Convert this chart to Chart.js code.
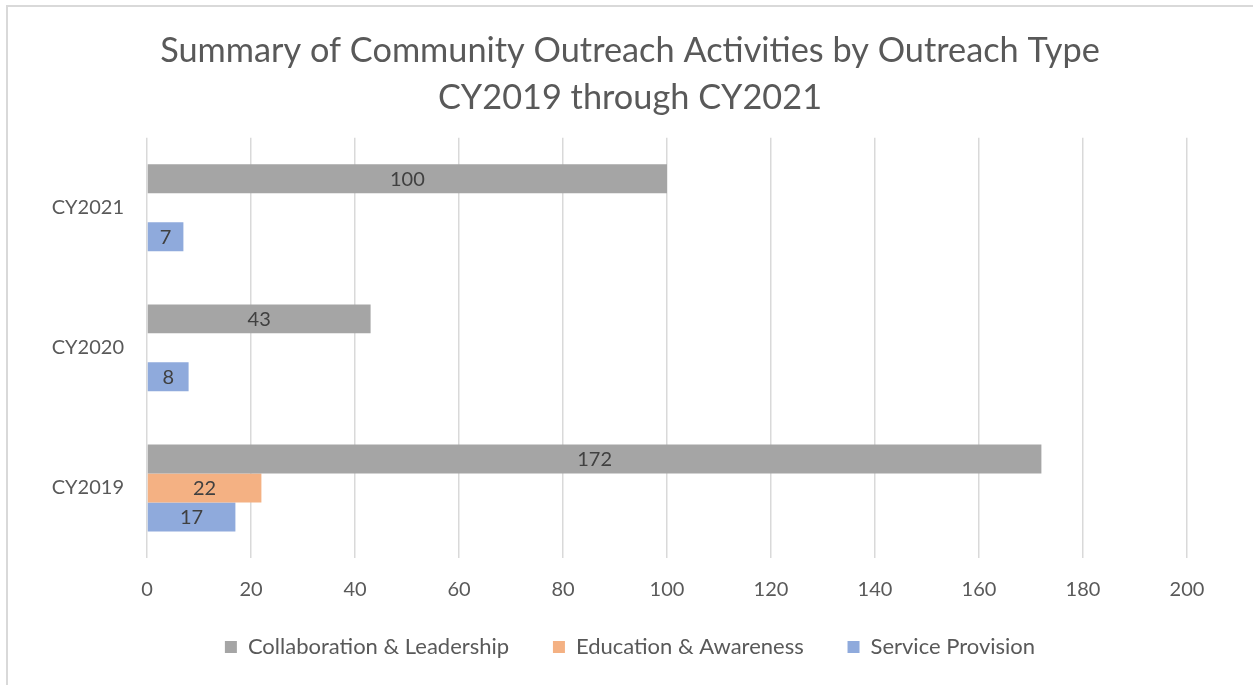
<!DOCTYPE html>
<html>
<head>
<meta charset="utf-8">
<script src="https://cdn.jsdelivr.net/npm/chart.js@4.4.1/dist/chart.umd.min.js"></script>
<style>
  html, body { margin: 0; padding: 0; background: #fff; overflow: hidden; }
  #frame { position: absolute; left: 6px; top: 5px; width: 1400px; height: 800px; border: 2px solid #d9d9d9; }
  #chart { position: absolute; left: 0; top: 0; }
</style>
</head>
<body>
<div id="frame"></div>
<canvas id="chart" width="1253" height="685"></canvas>
<script>
// data
const years = ['CY2021', 'CY2020', 'CY2019'];
const collaboration = [100, 43, 172];
const education = [null, null, 22];
const service = [7, 8, 17];
const xTicks = [0, 20, 40, 60, 80, 100, 120, 140, 160, 180, 200];

const textColor = '#595959';
const fontName = 'Lato';

// draws the value in the middle of each bar (like Excel data labels)
const barLabels = {
    id: 'barLabels',
    afterDatasetsDraw(chart) {
        const ctx = chart.ctx;
        ctx.save();
        ctx.font = '20px ' + fontName;
        ctx.fillStyle = '#404040';
        ctx.textAlign = 'center';
        ctx.textBaseline = 'middle';
        chart.data.datasets.forEach((ds, i) => {
            chart.getDatasetMeta(i).data.forEach((bar, j) => {
                if (ds.data[j] == null) return;
                ctx.fillText(ds.data[j], (bar.x + bar.base) / 2, bar.y + 1);
            });
        });
        ctx.restore();
    }
};

new Chart(document.getElementById('chart').getContext('2d'), {
    type: 'bar',
    data: {
        labels: years,
        datasets: [
            { label: 'Collaboration & Leadership', data: collaboration, backgroundColor: '#a5a5a5' },
            { label: 'Education & Awareness', data: education, backgroundColor: '#f4b183' },
            { label: 'Service Provision', data: service, backgroundColor: '#8faadc' }
        ]
    },
    options: {
        indexAxis: 'y',
        responsive: false,
        animation: false,
        categoryPercentage: 0.62,
        barPercentage: 1,
        layout: { padding: { left: 33, right: 26, top: 27, bottom: 17 } },
        scales: {
            x: {
                min: 0,
                max: 200,
                afterBuildTicks: (s) => { s.ticks = xTicks.map(v => ({ value: v })); },
                afterFit: (s) => { s.height = 68; },
                grid: { color: '#d9d9d9', lineWidth: 1.5, drawTicks: false },
                border: { display: false },
                ticks: { padding: 20, color: textColor, font: { family: fontName, size: 20 } }
            },
            y: {
                afterFit: (s) => { s.width = 114; },
                grid: { display: false, drawTicks: false },
                border: { display: false },
                ticks: { padding: 23, color: textColor, font: { family: fontName, size: 20 } }
            },
            // empty axis on the right, only keeps space so the plot ends at 200 where Excel put it
            yRight: {
                type: 'category',
                position: 'right',
                afterFit: (s) => { s.width = 40; },
                grid: { display: false, drawTicks: false },
                border: { display: false },
                ticks: { display: false }
            }
        },
        plugins: {
            title: {
                display: true,
                text: ['Summary of Community Outreach Activities by Outreach Type', 'CY2019 through CY2021'],
                color: textColor,
                font: { family: fontName, size: 34.3, weight: 'normal', lineHeight: 1.38 },
                padding: { top: 0, bottom: 16 }
            },
            legend: {
                position: 'bottom',
                labels: {
                    color: textColor,
                    font: { family: fontName, size: 22 },
                    boxWidth: 12,
                    boxHeight: 12,
                    padding: 10,
                    // trailing spaces widen the gap between items without growing the legend height
                    generateLabels: (chart) => {
                        const items = Chart.defaults.plugins.legend.labels.generateLabels(chart);
                        items.forEach((it, i) => {
                            if (i < items.length - 1) it.text += '      ';
                        });
                        return items;
                    }
                }
            },
            tooltip: { enabled: false }
        }
    },
    plugins: [barLabels]
});
</script>
</body>
</html>
